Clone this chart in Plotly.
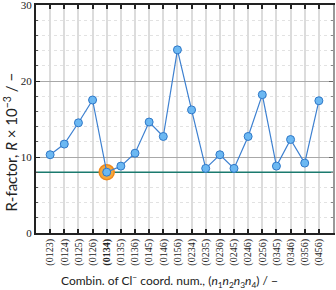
import plotly.graph_objects as go

categories = ["(0123)", "(0124)", "(0125)", "(0126)", "(0134)", "(0135)", "(0136)",
              "(0145)", "(0146)", "(0156)", "(0234)", "(0235)", "(0236)", "(0245)",
              "(0246)", "(0256)", "(0345)", "(0346)", "(0356)", "(0456)"]
r_factor = [10.3, 11.7, 14.5, 17.5, 8.0, 8.8, 10.5, 14.6, 12.7, 24.1,
            16.2, 8.5, 10.3, 8.5, 12.7, 18.2, 8.8, 12.3, 9.2, 17.4]
best_index = 4
best_value = 8.0
x_title = "Combin. of Cl<sup>−</sup> coord. num., (<i>n</i><sub>1</sub><i>n</i><sub>2</sub><i>n</i><sub>3</sub><i>n</i><sub>4</sub>) / −"
y_title = "R-factor, <i>R</i> × 10<sup>−3</sup> / −"

xpos = list(range(len(categories)))
ticktext = [f"<b>{c}</b>" if i == best_index else c for i, c in enumerate(categories)]

fig = go.Figure()
fig.add_trace(go.Scatter(
    x=[-1, len(categories)], y=[best_value, best_value], mode="lines",
    line=dict(color="#1b7a6e", width=1.5), showlegend=False, hoverinfo="skip"))
fig.add_trace(go.Scatter(
    x=[xpos[best_index]], y=[r_factor[best_index]], mode="markers",
    marker=dict(size=15, color="#f7a83c", line=dict(color="#f08a1c", width=1.5)),
    showlegend=False, hoverinfo="skip"))
fig.add_trace(go.Scatter(
    x=xpos, y=r_factor, mode="lines+markers",
    line=dict(color="#3d80d0", width=1.2),
    marker=dict(size=8, color="#6cb8f2", line=dict(color="#2f78c8", width=1)),
    showlegend=False))
fig.add_trace(go.Scatter(x=[None], y=[None], yaxis="y2", showlegend=False))

fig.update_layout(
    width=336, height=290,
    margin=dict(l=36, r=3, t=5, b=57),
    paper_bgcolor="white", plot_bgcolor="white",
    font=dict(family="Lato, Open Sans, sans-serif", color="#222"),
    xaxis=dict(
        range=[-1, 20], tickmode="array", tickvals=xpos, ticktext=ticktext,
        tickangle=-90, tickfont=dict(size=10, family="Liberation Serif"),
        showgrid=True, gridcolor="#dcdcdc", gridwidth=1.5,
        showline=True, linecolor="#222", linewidth=2, mirror="ticks",
        ticks="inside", ticklen=4, tickcolor="#222", tickwidth=1.5,
        zeroline=False, automargin=False, ticklabeloverflow="allow"),
    yaxis=dict(
        range=[0, 30], tickvals=[0, 10, 20, 30], tickfont=dict(size=11, family="Liberation Serif"),
        showgrid=True, gridcolor="#a8a8a8", gridwidth=1,
        showline=True, linecolor="#222", linewidth=2,
        ticks="inside", ticklen=4, tickcolor="#222",
        minor=dict(dtick=2, showgrid=True, gridcolor="#e2e2e2", griddash="dot",
                   ticks="inside", ticklen=2, tickcolor="#555"),
        zeroline=False, automargin=False, ticklabeloverflow="allow"),
    yaxis2=dict(
        range=[0, 30], overlaying="y", side="right", showticklabels=False,
        showgrid=False, showline=True, linecolor="#999", linewidth=1.5,
        tickvals=[0, 10, 20, 30], ticks="inside", ticklen=4, tickcolor="#666",
        minor=dict(dtick=2, ticks="inside", ticklen=2, tickcolor="#888"),
        zeroline=False, automargin=False),
    annotations=[
        dict(text=x_title, xref="paper", yref="paper", x=0.45, y=-0.21,
             xanchor="center", yanchor="middle", showarrow=False, font=dict(size=12)),
        dict(text=y_title, xref="paper", yref="paper", x=-0.085, y=0.40, textangle=-90,
             xanchor="center", yanchor="middle", showarrow=False, font=dict(size=15)),
    ],
)

fig.write_html("out.html", config={"displayModeBar": False},
               post_script="document.body.style.margin='0';document.body.style.padding='0';")
